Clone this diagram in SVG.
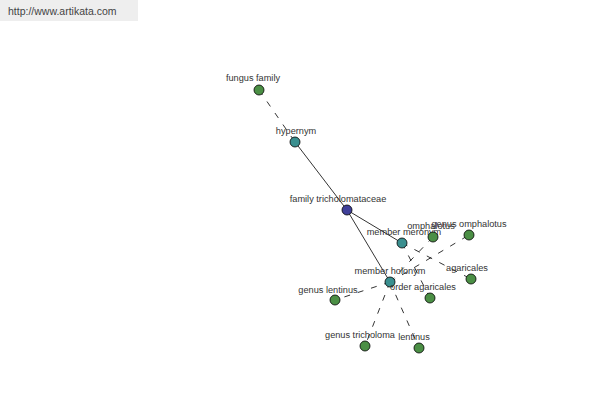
<svg xmlns="http://www.w3.org/2000/svg" width="600" height="400" viewBox="0 0 600 400">
<style>
text{font-family:"Liberation Sans",Arial,sans-serif;font-size:9.2px;fill:#333;text-anchor:middle}
.e{stroke:#000;stroke-width:0.8;fill:none}
.d{stroke-dasharray:6,8}
circle{stroke:#000;stroke-width:0.8}
.g{fill:#4b8f45}
.t{fill:#3a8f8f}
.b{fill:#3f3f99}
</style>
<rect x="0" y="0" width="600" height="400" fill="#fff"/>
<rect x="0" y="0" width="138" height="21" fill="#eeeeee"/>
<text x="8" y="15" style="text-anchor:start;font-size:10.5px;fill:#444">http://www.artikata.com</text>
<g id="connectors">
<line class="e d" x1="259" y1="90" x2="295" y2="142"/>
<line class="e" x1="295" y1="142" x2="347" y2="210"/>
<line class="e" x1="347" y1="210" x2="402" y2="243"/>
<line class="e" x1="347" y1="210" x2="390" y2="282"/>
<line class="e d" x1="402" y1="243" x2="471" y2="279"/>
<line class="e d" x1="402" y1="243" x2="430" y2="298"/>
<line class="e d" x1="390" y1="282" x2="433" y2="237"/>
<line class="e d" x1="390" y1="282" x2="469" y2="235"/>
<line class="e d" x1="390" y1="282" x2="335" y2="300"/>
<line class="e d" x1="390" y1="282" x2="365" y2="346"/>
<line class="e d" x1="390" y1="282" x2="419" y2="348"/>
</g>
<g id="fungus-family"><circle class="g" cx="259" cy="90" r="5"/><text x="253" y="81">fungus family</text></g>
<g id="hypernym"><circle class="t" cx="295" cy="142" r="5"/><text x="296" y="134">hypernym</text></g>
<g id="family-tricholomataceae"><circle class="b" cx="347" cy="210" r="5"/><text x="338" y="202">family tricholomataceae</text></g>
<g id="member-meronym"><circle class="t" cx="402" cy="243" r="5"/><text x="404" y="235">member meronym</text></g>
<g id="member-holonym"><circle class="t" cx="390" cy="282" r="5"/><text x="390" y="274">member holonym</text></g>
<g id="omphalotus"><circle class="g" cx="433" cy="237" r="5"/><text x="431" y="229">omphalotus</text></g>
<g id="genus-omphalotus"><circle class="g" cx="469" cy="235" r="5"/><text x="469" y="227">genus omphalotus</text></g>
<g id="agaricales"><circle class="g" cx="471" cy="279" r="5"/><text x="467" y="271">agaricales</text></g>
<g id="order-agaricales"><circle class="g" cx="430" cy="298" r="5"/><text x="423" y="290">order agaricales</text></g>
<g id="genus-lentinus"><circle class="g" cx="335" cy="300" r="5"/><text x="328" y="293">genus lentinus</text></g>
<g id="genus-tricholoma"><circle class="g" cx="365" cy="346" r="5"/><text x="360" y="338">genus tricholoma</text></g>
<g id="lentinus"><circle class="g" cx="419" cy="348" r="5"/><text x="414" y="340">lentinus</text></g>
</svg>
